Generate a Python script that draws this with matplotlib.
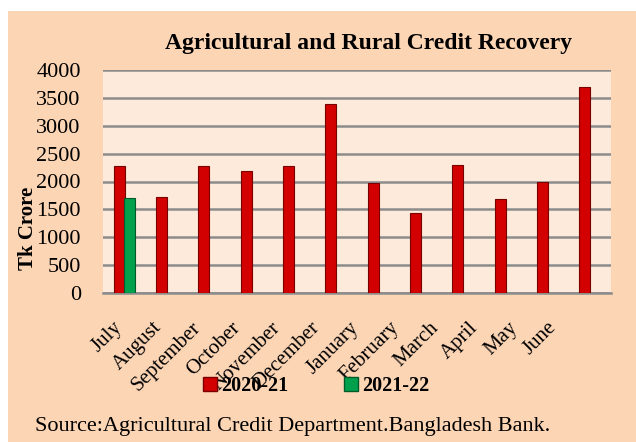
import matplotlib
matplotlib.use("Agg")
import matplotlib.pyplot as plt
from matplotlib.patches import Rectangle, Patch
from matplotlib.transforms import ScaledTranslation

plt.rcParams['font.family'] = ['Liberation Serif', 'DejaVu Serif']

# monthly recovery, Tk crore
months = ["July", "August", "September", "October", "November", "December",
          "January", "February", "March", "April", "May", "June"]
fy2021 = [2270, 1730, 2270, 2180, 2270, 3390, 1970, 1430, 2290, 1680, 2000, 3690]
fy2122 = [1700]

fig = plt.figure(figsize=(6.36, 4.42), dpi=100, facecolor="white")
# peach chart background (white strip on top/left like the original)
fig.patches.append(Rectangle((8 / 636, 0), 1, 1 - 11 / 442, transform=fig.transFigure,
                             facecolor="#FCD5B5", edgecolor="none", zorder=-10))

ax = fig.add_axes([103 / 636, 1 - 293 / 442, 508 / 636, 223 / 442])
ax.set_facecolor("#FDEADA")

x = list(range(len(months)))
w = 0.26
ax.bar([i - 0.12 for i in x], fy2021, width=w, color="#D20000",
       edgecolor="#7A0000", linewidth=0.8, zorder=3)
ax.bar([i + 0.12 for i in range(len(fy2122))], fy2122, width=w, color="#00A04C",
       edgecolor="#005A2A", linewidth=0.8, zorder=3)

ax.set_xlim(-0.5, len(months) - 0.5)
ax.set_ylim(0, 4000)
ax.set_yticks(range(0, 4001, 500))
ax.tick_params(axis="y", length=0, labelsize=16, pad=16)
ax.yaxis.grid(True, color="#8C8C8C", linewidth=1.8, zorder=0)
ax.set_axisbelow(True)
for s in ["left", "right", "top"]:
    ax.spines[s].set_visible(False)
ax.spines["bottom"].set_color("#8C8C8C")
ax.spines["bottom"].set_linewidth(1.8)

ax.set_xticks(x)
ax.set_xticklabels([])
ax.tick_params(axis="x", length=0)
for i, m in enumerate(months):
    off = ScaledTranslation((-5 - i * 2.8) / 100, -32 / 100, fig.dpi_scale_trans)
    ax.text(i, 0, m, transform=ax.get_xaxis_transform() + off, rotation=45,
            ha="right", va="center", rotation_mode="anchor", fontsize=15)

ax.set_ylabel("Tk Crore", fontsize=15, fontweight="bold")
ax.yaxis.set_label_coords(-0.128, 0.29)

fig.text(369 / 636, 1 - 43 / 442, "Agricultural and Rural Credit Recovery",
         ha="center", va="center", fontsize=17, fontweight="bold")

handles = [Patch(facecolor="#D20000", edgecolor="#7A0000"),
           Patch(facecolor="#00A04C", edgecolor="#005A2A")]
fig.legend(handles, ["2020-21", "2021-22"], loc="center", bbox_to_anchor=(0.497, 1 - 386 / 442),
           ncol=2, frameon=False, prop={"weight": "bold", "size": 14.5},
           handlelength=0.7, handleheight=0.7, handletextpad=0.2, columnspacing=2.8)

fig.text(293 / 636, 1 - 427 / 442, "Source:Agricultural Credit Department.Bangladesh Bank.",
         ha="center", va="center", fontsize=16)

fig.savefig("out.png", dpi=100, facecolor=fig.get_facecolor())
